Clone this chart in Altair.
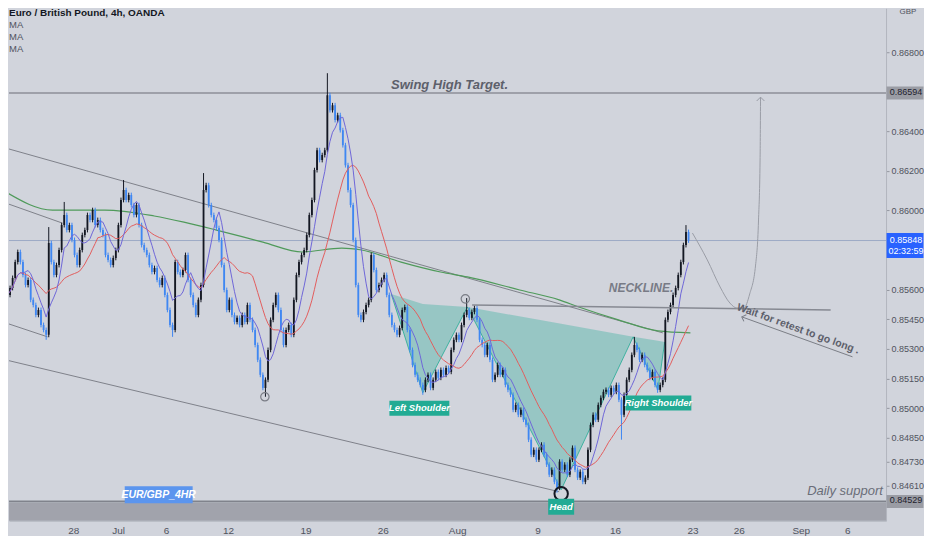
import altair as alt
import pandas as pd

# ---------------- data ----------------
# time axis: trading days counted from Mon 28 Jun 2021 (weekends removed); 6 four-hour bars per day
FIRST_BAR_T = -4.25
BARS_PER_DAY = 6
first_open = 0.85560
closes = [
    0.85573, 0.85608, 0.85659, 0.85739, 0.85790, 0.85739, 0.85674, 0.85623, 0.85649, 0.85548,
    0.85522, 0.85472, 0.85497, 0.85421, 0.85396, 0.85371, 0.85835, 0.85739, 0.85674, 0.85724,
    0.85800, 0.85926, 0.85977, 0.85901, 0.85926, 0.85851, 0.85775, 0.85724, 0.85800, 0.85876,
    0.85901, 0.85977, 0.85952, 0.86002, 0.85926, 0.85952, 0.85901, 0.85876, 0.85775, 0.85750,
    0.85724, 0.85760, 0.85800, 0.85926, 0.86053, 0.86103, 0.86053, 0.86078, 0.86027, 0.85977,
    0.86027, 0.85926, 0.85825, 0.85800, 0.85775, 0.85724, 0.85689, 0.85709, 0.85649, 0.85623,
    0.85659, 0.85573, 0.85497, 0.85421, 0.85396, 0.85739, 0.85689, 0.85674, 0.85699, 0.85775,
    0.85649, 0.85573, 0.85522, 0.85472, 0.85548, 0.85623, 0.86103, 0.86128, 0.86027, 0.85977,
    0.85952, 0.85911, 0.85851, 0.85724, 0.85598, 0.85497, 0.85548, 0.85472, 0.85436, 0.85457,
    0.85421, 0.85472, 0.85436, 0.85522, 0.85447, 0.85396, 0.85320, 0.85245, 0.85169, 0.85103,
    0.85144, 0.85295, 0.85447, 0.85522, 0.85573, 0.85497, 0.85396, 0.85320, 0.85396, 0.85421,
    0.85371, 0.85548, 0.85674, 0.85739, 0.85775, 0.85800, 0.85876, 0.85977, 0.86053, 0.86204,
    0.86305, 0.86255, 0.86280, 0.86305, 0.86583, 0.86507, 0.86532, 0.86457, 0.86482, 0.86406,
    0.86330, 0.86229, 0.86103, 0.86027, 0.85851, 0.85623, 0.85472, 0.85447, 0.85487, 0.85522,
    0.85548, 0.85775, 0.85699, 0.85598, 0.85623, 0.85649, 0.85674, 0.85573, 0.85472, 0.85421,
    0.85396, 0.85371, 0.85406, 0.85497, 0.85512, 0.85396, 0.85295, 0.85219, 0.85169, 0.85144,
    0.85118, 0.85093, 0.85144, 0.85169, 0.85103, 0.85144, 0.85184, 0.85154, 0.85194, 0.85169,
    0.85204, 0.85184, 0.85295, 0.85346, 0.85371, 0.85346, 0.85421, 0.85472, 0.85497, 0.85457,
    0.85487, 0.85507, 0.85447, 0.85346, 0.85320, 0.85270, 0.85320, 0.85245, 0.85144, 0.85169,
    0.85219, 0.85169, 0.85194, 0.85118, 0.85093, 0.85068, 0.84992, 0.85017, 0.84967, 0.84992,
    0.84942, 0.84916, 0.84841, 0.84765, 0.84790, 0.84740, 0.84790, 0.84816, 0.84765, 0.84715,
    0.84664, 0.84689, 0.84628, 0.84598, 0.84730, 0.84689, 0.84715, 0.84664, 0.84740, 0.84800,
    0.84689, 0.84649, 0.84679, 0.84628, 0.84649, 0.84790, 0.84916, 0.84967, 0.84942, 0.85017,
    0.85053, 0.85083, 0.85093, 0.85068, 0.85103, 0.85083, 0.85118, 0.85043, 0.84967, 0.85068,
    0.85144, 0.85194, 0.85270, 0.85320, 0.85295, 0.85245, 0.85270, 0.85219, 0.85194, 0.85154,
    0.85184, 0.85118, 0.85093, 0.85118, 0.85144, 0.85447, 0.85487, 0.85522, 0.85573, 0.85608,
    0.85674, 0.85739, 0.85825, 0.85891, 0.85848,
]
high_marks = {16: 0.85916, 22: 0.86043, 45: 0.86154, 76: 0.86189, 124: 0.86694,
              178: 0.85557, 243: 0.85361, 263: 0.85926}
low_marks = {15: 0.85346, 64: 0.85361, 100: 0.85058, 161: 0.85068, 213: 0.84573,
             238: 0.84841, 252: 0.85078}
WICK = 0.00012

# slow (green) moving average
green_t = [-4.34, -1.34, 2.04, 5.23, 7.15, 9.25, 12.25, 14.80, 17.35, 18.63, 21.18, 23.73,
           25.46, 28.84, 31.39, 32.66, 35.22, 37.77, 39.87]
green_p = [0.86093, 0.86002, 0.86002, 0.85972, 0.85941, 0.85901, 0.85840, 0.85790, 0.85810,
           0.85800, 0.85739, 0.85689, 0.85664, 0.85598, 0.85548, 0.85512, 0.85447, 0.85391, 0.85381]

# trend / channel lines (start t, start price, end t, end price)
chan_t0 = [-4.34, -4.34, -4.34, -4.34]
chan_p0 = [0.86315, 0.86037, 0.85244, 0.85431]
chan_t1 = [38.09, -0.70, 31.39, -1.66]
chan_p1 = [0.85381, 0.85936, 0.84578, 0.85361]

# inverse head & shoulders pattern
hs_t = [20.54, 22.58, 25.46, 31.52, 36.17, 37.77, 38.21]
hs_p = [0.85578, 0.85078, 0.85512, 0.84588, 0.85361, 0.85093, 0.85335]
hs_neck = [0.85578, 0.85527, 0.85512, 0.85427, 0.85361, 0.85341, 0.85335]

neck_t = [25.77, 48.93]
neck_p = [0.85522, 0.85497]

swing_high = 0.86594
last_price = 0.85848
support = 0.84529
band_top = 0.84521

marker_t = [12.38, 25.33]
marker_p = [0.85058, 0.85553]
head_mark_t = [31.52]
head_mark_p = [0.84568]

curve_t = [40.00, 40.96, 41.79, 42.42, 42.87, 43.32, 43.70, 44.08, 44.27, 44.37, 44.40]
curve_p = [0.85886, 0.85750, 0.85613, 0.85532, 0.85507, 0.85507, 0.85578, 0.85724, 0.85952,
           0.86255, 0.86573]

retest_t = [43.19, 50.34]
retest_p = [0.85462, 0.85260]

ytick_vals = [0.868, 0.864, 0.862, 0.860, 0.856, 0.8545, 0.853, 0.8515, 0.850, 0.8485,
              0.8473, 0.8461]
xtick_t = [0, 2.9, 6, 10, 15, 20, 24.8, 30, 35, 40, 43, 47, 50]
xtick_lab = ['28', 'Jul', '6', '12', '19', '26', 'Aug', '9', '16', '23', '26', 'Sep', '6']

# ---------------- frames ----------------
opens = [first_open] + closes[:-1]
rows = []
for i, c in enumerate(closes):
    o = opens[i]
    rows.append(dict(
        t=FIRST_BAR_T + i / BARS_PER_DAY, o=o, c=c,
        h=high_marks.get(i, max(o, c) + WICK),
        l=low_marks.get(i, min(o, c) - WICK),
        d='up' if c >= o else 'down'))
cdf = pd.DataFrame(rows)

W, H = 878, 513
BG = '#d1d4dc'
FONT = 'Liberation Sans'
XS = alt.Scale(domain=[-3.828, 52.185], nice=False, zero=False)
YS = alt.Scale(domain=[0.844313, 0.870222], nice=False, zero=False)

label_expr = ("[" + ",".join("'%s'" % s for s in xtick_lab) + "][indexof(["
              + ",".join(str(v) for v in xtick_t) + "], datum.value)]")
XAX = alt.Axis(values=xtick_t, labelExpr=label_expr, ticks=False, grid=False,
               domainColor='#b2b5be', labelColor='#50535e', labelFontSize=10,
               labelFont=FONT, labelPadding=5, title=None, labelFlush=False)
YAX = alt.Axis(orient='right', values=ytick_vals, format='.5f', grid=False,
               domainColor='#b2b5be', tickColor='#9598a1', tickSize=3,
               labelColor='#50535e', labelFontSize=9, labelFont=FONT,
               labelPadding=2, title=None)


def X(f):
    return alt.X(f, type='quantitative', scale=XS, axis=XAX)


def Y(f):
    return alt.Y(f, type='quantitative', scale=YS, axis=YAX)


layers = []

# support band
band_df = pd.DataFrame({'top': [band_top], 'bot': [YS.domain[0]], 'sup': [support]})
layers.append(alt.Chart(band_df).mark_rect(color='#a1a3ac').encode(
    x=alt.value(0), x2=alt.value(W), y=Y('top'), y2=alt.Y2('bot')))
layers.append(alt.Chart(band_df).mark_rule(color='#80838c', strokeWidth=2).encode(
    x=alt.value(0), x2=alt.value(W), y=Y('sup')))

# horizontal levels
lvl_df = pd.DataFrame({'p': [swing_high]})
layers.append(alt.Chart(lvl_df).mark_rule(color='#8c8f98', strokeWidth=1.3).encode(
    x=alt.value(0), x2=alt.value(W), y=Y('p')))
lp_df = pd.DataFrame({'p': [last_price]})
layers.append(alt.Chart(lp_df).mark_rule(color='#9eabc6', strokeWidth=1).encode(
    x=alt.value(0), x2=alt.value(W), y=Y('p')))

# channel lines
chan_df = pd.DataFrame({'t0': chan_t0, 'p0': chan_p0, 't1': chan_t1, 'p1': chan_p1})
layers.append(alt.Chart(chan_df).mark_rule(color='#7e818a', strokeWidth=1, clip=True).encode(
    x=X('t0'), y=Y('p0'), x2=alt.X2('t1'), y2=alt.Y2('p1')))

# slow MA (green)
g_df = pd.DataFrame({'t': green_t, 'p': green_p})
layers.append(alt.Chart(g_df).mark_line(color='#4f9a5a', strokeWidth=1.2, interpolate='monotone',
                                        clip=True).encode(x=X('t'), y=Y('p')))

# head & shoulders fill
hs_df = pd.DataFrame({'t': hs_t, 'p': hs_p, 'n': hs_neck})
layers.append(alt.Chart(hs_df).mark_area(color='#22ab94', opacity=0.33).encode(
    x=X('t'), y=Y('p'), y2=alt.Y2('n')))
layers.append(alt.Chart(hs_df).mark_line(color='#22ab94', strokeWidth=1, opacity=0.8).encode(
    x=X('t'), y=Y('p')))

# candles
col = alt.Color('d:N', scale=alt.Scale(domain=['up', 'down'], range=['#131722', '#3f87f2']),
                legend=None)
cb = alt.Chart(cdf)
layers.append(cb.mark_rule(strokeWidth=1, clip=True).encode(
    x=X('t'), y=Y('l'), y2=alt.Y2('h'), color=col))
layers.append(cb.mark_bar(size=1.8, clip=True).encode(
    x=X('t'), y=Y('o'), y2=alt.Y2('c'), color=col))

# fast & medium MAs computed from the closes
ma = cb.transform_window(fast='mean(c)', frame=[-6, 0], sort=[alt.SortField('t')]) \
       .transform_window(mid='mean(c)', frame=[-19, 0], sort=[alt.SortField('t')])
layers.append(ma.mark_line(color='#e25d5d', strokeWidth=1, clip=True).encode(x=X('t'), y=Y('mid')))
layers.append(ma.mark_line(color='#6e66d8', strokeWidth=1, clip=True).encode(x=X('t'), y=Y('fast')))

# neckline
nk_df = pd.DataFrame({'t': neck_t, 'p': neck_p})
layers.append(alt.Chart(nk_df).mark_line(color='#868992', strokeWidth=1.5).encode(
    x=X('t'), y=Y('p')))

# circle markers
m_df = pd.DataFrame({'t': marker_t, 'p': marker_p})
layers.append(alt.Chart(m_df).mark_point(shape='circle', size=70, filled=False,
                                         color='#7a7d86', strokeWidth=1.2, opacity=1).encode(
    x=X('t'), y=Y('p')))
hm_df = pd.DataFrame({'t': head_mark_t, 'p': head_mark_p})
layers.append(alt.Chart(hm_df).mark_point(shape='circle', size=180, filled=False,
                                          color='#131722', strokeWidth=2, opacity=1).encode(
    x=X('t'), y=Y('p')))

# projected path (curved arrow)
cv_df = pd.DataFrame({'t': curve_t, 'p': curve_p})
layers.append(alt.Chart(cv_df).mark_line(color='#9a9da6', strokeWidth=1, interpolate='monotone').encode(
    x=X('t'), y=Y('p')))
tip_df = cv_df.tail(1)
layers.append(alt.Chart(tip_df).mark_point(shape='M-1,1L0,0L1,1', size=60, filled=False,
                                           color='#9a9da6', strokeWidth=1, opacity=1).encode(
    x=X('t'), y=Y('p')))

# retest arrow
rt_df = pd.DataFrame({'t': retest_t, 'p': retest_p})
layers.append(alt.Chart(rt_df).mark_line(color='#7a7d86', strokeWidth=1).encode(
    x=X('t'), y=Y('p')))
layers.append(alt.Chart(rt_df.head(1)).mark_point(shape='M1,-1L0,0L1,1', size=50, filled=False,
                                                  angle=20, color='#7a7d86', strokeWidth=1,
                                                  opacity=1).encode(x=X('t'), y=Y('p')))

# text annotations
def note(t, p, text, **kw):
    df = pd.DataFrame({'t': [t], 'p': [p], 'txt': [text]})
    return alt.Chart(df).mark_text(font=FONT, **kw).encode(x=X('t'), y=Y('p'), text='txt:N')


layers.append(note(24.31, 0.86633, 'Swing High Target.', fontSize=13, fontStyle='italic',
                   fontWeight='bold', color='#5d606b'))
layers.append(note(36.68, 0.85608, 'NECKLINE.', fontSize=12, fontStyle='italic',
                   fontWeight='bold', color='#787b86'))
layers.append(note(46.83, 0.85401, 'Wait for retest to go long .', fontSize=10.5, angle=20,
                   fontWeight='bold', color='#5d606b'))
layers.append(note(52.3, 0.84583, 'Daily support', fontSize=13, fontStyle='italic',
                   align='right', color='#6a6d78'))


def tag(t, p, text, fill, box_w, box_h, fsize=9.5, italic=True):
    df = pd.DataFrame({'t': [t], 'p': [p], 'txt': [text]})
    half = box_h / box_w
    shape = 'M-1,-%.3fL1,-%.3fL1,%.3fL-1,%.3fZ' % (half, half, half, half)
    box = alt.Chart(df).mark_point(shape=shape, size=box_w * box_w, filled=True, fill=fill,
                                   opacity=1, strokeWidth=0).encode(x=X('t'), y=Y('p'))
    txt = alt.Chart(df).mark_text(font=FONT, fontSize=fsize, fontWeight='bold',
                                  fontStyle='italic' if italic else 'normal',
                                  color='white').encode(x=X('t'), y=Y('p'), text='txt:N')
    return [box, txt]


layers += tag(22.36, 0.85000, 'Left Shoulder', '#22ab94', 60, 15)
layers += tag(37.80, 0.85027, 'Right Shoulder', '#22ab94', 66, 15)
layers += tag(31.52, 0.84502, 'Head', '#22ab94', 26, 16)
layers += tag(5.52, 0.84563, 'EUR/GBP_4HR', '#5b95ee', 68, 17, fsize=10.5)

# header
hdr = pd.DataFrame({'txt': ['Euro / British Pound, 4h, OANDA', 'MA', 'MA', 'MA'],
                    'row': [0, 1, 2, 3]})
layers.append(alt.Chart(hdr.head(1)).mark_text(font=FONT, fontSize=10, fontWeight='bold',
                                               align='left', color='#131722').encode(
    x=alt.value(0), y=alt.value(5), text='txt:N'))
for k in range(1, 4):
    layers.append(alt.Chart(hdr.iloc[[k]]).mark_text(font=FONT, fontSize=9.5, align='left',
                                                     color='#50535e').encode(
        x=alt.value(0), y=alt.value(5 + 12 * k), text='txt:N'))

# price-scale tags
def axis_tag(p, text, fill, color, box_h, dy=0):
    df = pd.DataFrame({'p': [p], 'txt': [text]})
    half = box_h / 37.0
    shape = 'M-1,-%.3fL1,-%.3fL1,%.3fL-1,%.3fZ' % (half, half, half, half)
    box = alt.Chart(df).mark_point(shape=shape, size=37 * 37, filled=True, fill=fill, opacity=1,
                                   strokeWidth=0, yOffset=dy).encode(
        x=alt.value(W + 19), y=Y('p'))
    txt = alt.Chart(df).mark_text(font=FONT, fontSize=9, color=color, lineBreak='\n',
                                  baseline='top', dy=-5).encode(
        x=alt.value(W + 20), y=Y('p'), text='txt:N')
    return [box, txt]


layers += axis_tag(swing_high, '%.5f' % swing_high, '#9a9ca4', '#1e222d', 13, 0)
layers += axis_tag(last_price, '%.5f\n02:32:59' % last_price, '#2962ff', '#ffffff', 25, 5)
layers += axis_tag(support, '%.5f' % support, '#9a9ca4', '#1e222d', 13, 0)
gbp = pd.DataFrame({'txt': ['GBP']})
layers.append(alt.Chart(gbp).mark_text(font=FONT, fontSize=8, color='#50535e').encode(
    x=alt.value(W + 22), y=alt.value(4), text='txt:N'))

chart = alt.layer(*layers).properties(width=W, height=H, background=BG, padding=0).configure_view(
    stroke=None)

chart.save("out.html", embed_options={"renderer": "svg", "actions": False})
